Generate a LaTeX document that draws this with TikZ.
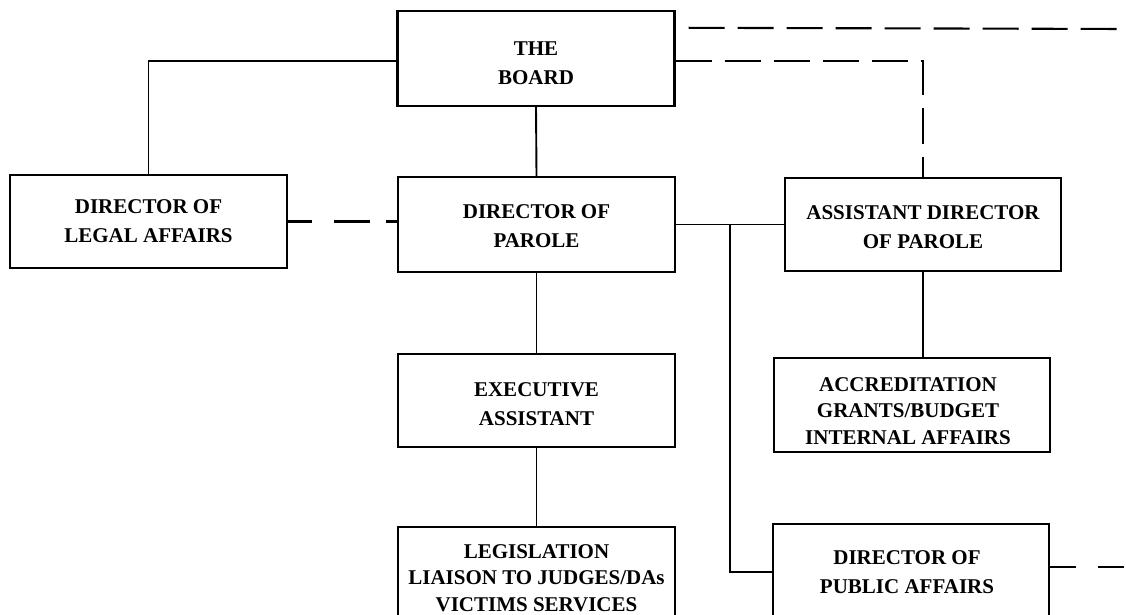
\documentclass[tikz,border=0pt]{standalone}
\usepackage{fontspec}
\setmainfont{Liberation Serif}
\usetikzlibrary{calc}
\begin{document}
\begin{tikzpicture}[x=1pt,y=-1pt,
  box/.style={draw, line width=2.4pt, minimum width=277pt, minimum height=94pt, inner sep=0pt},
  txt/.style={align=center, inner sep=0pt, font=\fontsize{21}{29}\selectfont\bfseries},
  txt3/.style={txt, font=\fontsize{21}{26.5}\selectfont\bfseries},
  link/.style={line width=1.9pt},
  dashlink/.style={line width=2.1pt, dash pattern=on 36pt off 13pt}]
\useasboundingbox (0,0) rectangle (1126,615);
\clip (0,0) rectangle (1126,615);
\fill[white] (0,0) rectangle (1126,615);
% boxes
\node[box, minimum height=95pt] (board) at (536,58.5) {};
\node[box, minimum height=93pt] (legal) at (148.5,221.5) {};
\node[box, minimum height=95pt] (dop) at (536.5,224.5) {};
\node[box, minimum width=276pt, minimum height=93pt] (asst) at (923,224.5) {};
\node[box, minimum width=276pt, minimum height=94pt] (accr) at (912,405) {};
\node[box, minimum height=93pt] (exec) at (536.5,400.5) {};
\node[box, minimum height=106pt] (legis) at (536.5,580) {};
\node[box, minimum width=276pt, minimum height=96pt] (pa) at (911,572) {};
% texts
\node[txt] (boardtxt) at ([yshift=-5pt]board.center) {THE\\BOARD};
\node[txt] (legaltxt) at (legal.center) {DIRECTOR OF\\LEGAL AFFAIRS};
\node[txt] (doptxt) at ([yshift=-2pt]dop.center) {DIRECTOR OF\\PAROLE};
\node[txt] (assttxt) at ([yshift=-3pt]asst.center) {ASSISTANT DIRECTOR\\OF PAROLE};
\node[txt3] (accrtxt) at ([yshift=-6pt,xshift=-4pt]accr.center) {ACCREDITATION\\GRANTS/BUDGET\\INTERNAL AFFAIRS};
\node[txt] (exectxt) at ([yshift=-4pt]exec.center) {EXECUTIVE\\ASSISTANT};
\node[txt3] (legistxt) at ([yshift=2pt]legis.center) {LEGISLATION\\LIAISON TO JUDGES/DAs\\VICTIMS SERVICES};
\node[txt] (patxt) at ([xshift=-4pt]pa.center) {DIRECTOR OF\\PUBLIC AFFAIRS};
% coordinates for free ends
\coordinate (topstart) at ([xshift=13pt,yshift=-18pt]board.north east);
\coordinate (topend) at (1126,29);
\coordinate (branch) at ($(dop.east)!0.5!(asst.west)$);
\coordinate (paend) at ([yshift=5pt]pa.east -| topend);
% solid connectors
\draw[link] (board.south) -- (dop.north);
\draw[link] ([yshift=-2.5pt]board.west) -| (legal.north);
\draw[link] (dop.east) -- (asst.west);
\draw[link] (branch) |- (pa.west);
\draw[link] (asst.south) -- (asst.south |- accr.north);
\draw[link] (dop.south) -- (exec.north);
\draw[link] (exec.south) -- (legis.north);
% dashed connectors
\draw[dashlink] (topstart) -- (topend);
\draw[dashlink] ([yshift=-2.5pt]board.east) -| (asst.north);
\draw[dashlink, dash pattern=on 24pt off 22pt on 36pt off 16pt] (legal.east) -- (legal.east -| dop.west);
\draw[dashlink, dash pattern=on 26pt off 22pt] ([yshift=5pt]pa.east) -- (paend);
\end{tikzpicture}
\end{document}
